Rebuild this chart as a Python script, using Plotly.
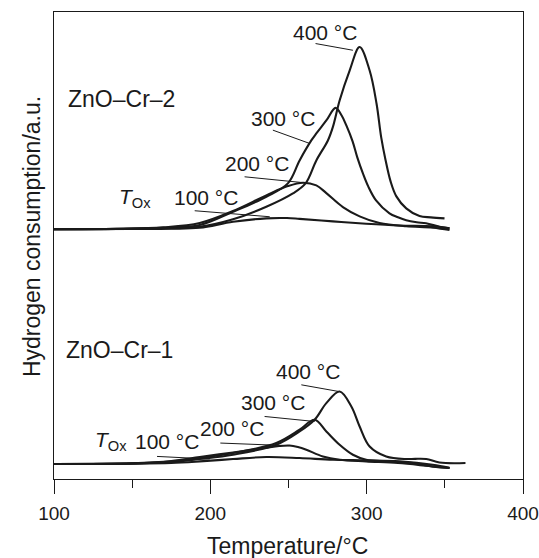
import plotly.graph_objects as go

# ---------------- data ----------------
# ZnO-Cr-2 (upper set): temperature (°C) and signal above its baseline (a.u.)
cr2_400_T = [100, 140, 170, 193, 214.5, 235.8, 252.8, 260.9, 267.8, 275.2, 278.4, 282.7, 289.1, 295.5,
             301.9, 306.3, 309.3, 312, 315.3, 319, 325.3, 333.8, 341, 349.8]
cr2_400_h = [0, 0.3, 1, 2.5, 10, 22.6, 36, 46, 69, 89, 102.6, 129, 159, 182.6,
             159, 126, 92, 70, 48, 33, 21, 13.3, 12, 11]

cr2_300_T = [100, 140, 170, 193.2, 214.5, 235.8, 249.6, 257.1, 264.6, 267.8, 274.2, 280.1, 284, 287, 291,
             294, 297.6, 301, 306, 314.6, 320, 325.3, 332, 338, 346.6, 353]
cr2_300_h = [0, 0.4, 1.5, 4.3, 17.6, 32.6, 46, 69, 89, 96, 109, 121.6, 114, 104, 88,
             72, 56, 43, 29, 16, 12, 9, 7, 6, 2.6, 1]

cr2_200_T = [100, 140, 170, 193.2, 214.5, 235.8, 249.6, 259.2, 267.8, 274.2, 284.8, 295.5, 308.2, 325.3, 342.3, 353]
cr2_200_h = [0, 0.5, 2, 6.3, 18.3, 34, 43.3, 46.7, 44, 36.3, 22.3, 13, 6.3, 3, 1.7, -0.7]

cr2_100_T = [100, 150, 175, 193.2, 214.5, 235.8, 249, 257.1, 278.4, 299.7, 321, 342.3, 353]
cr2_100_h = [0, 0.3, 0.6, 1.5, 7.6, 11, 11.3, 10.5, 8, 5.6, 3.8, 3, 1]

# ZnO-Cr-1 (lower set)
cr1_400_T = [100, 150, 175, 193.2, 214.5, 242.2, 257.1, 266.7, 274.2, 282.7, 290.2, 295.5, 301.9, 312.5,
             325.3, 331, 338.1, 346.6, 363.2]
cr1_400_h = [0, 0.5, 2, 5, 9.3, 19.3, 32.6, 44.3, 61, 72.6, 57.6, 37.6, 17.6, 7.6,
             5, 5.2, 5, 1.5, 1]

cr1_300_T = [100, 150, 175, 193.2, 214.5, 242.2, 257.1, 266.7, 274.2, 282.7, 291.2, 299.7, 312.5, 329.6, 342.3, 353]
cr1_300_h = [0, 0.6, 2.5, 6, 11, 21, 34.3, 44.3, 32.6, 19.3, 9.3, 4.3, 2.6, 1, -2.7, -4]

cr1_200_T = [100, 150, 175, 193.2, 214.5, 234.7, 244, 250.6, 256, 261.4, 272, 282.7, 299.7, 320, 340, 353]
cr1_200_h = [0, 0.8, 3, 7, 11.6, 16, 18, 18.5, 17, 14.3, 7.6, 4.3, 2.6, 1, -2, -4]

cr1_100_T = [100, 150, 175, 193.2, 214.5, 235.8, 257.1, 278.4, 299.7, 321, 342.3, 353]
cr1_100_h = [0, 0.3, 1, 2.6, 5, 7, 6, 4.3, 3.6, 2.6, -0.7, -3.7]

x_ticks = [100, 200, 300, 400]
x_minor_ticks = [150, 250, 350]

# vertical offsets of the two stacked sets (a.u.)
offset_cr2 = 250
offset_cr1 = 15

FONT = "Liberation Sans, Arial, Helvetica, sans-serif"
INK = "#1a1a1a"

fig = go.Figure()

series = [
    (cr2_400_T, cr2_400_h, offset_cr2), (cr2_300_T, cr2_300_h, offset_cr2),
    (cr2_200_T, cr2_200_h, offset_cr2), (cr2_100_T, cr2_100_h, offset_cr2),
    (cr1_400_T, cr1_400_h, offset_cr1), (cr1_300_T, cr1_300_h, offset_cr1),
    (cr1_200_T, cr1_200_h, offset_cr1), (cr1_100_T, cr1_100_h, offset_cr1),
]
for T, h, off in series:
    fig.add_trace(go.Scatter(
        x=T, y=[off + v for v in h], mode="lines",
        line=dict(color=INK, width=2.1, shape="spline", smoothing=1.0),
        hoverinfo="skip", showlegend=False))

# ---------------- labels and leader lines ----------------
labels = [
    # text, x, y, xanchor, size
    ("400 °C", 273.4, 447, "center", 21),
    ("300 °C", 246.4, 361, "center", 21),
    ("200 °C", 229.6, 316.3, "center", 21),
    ("100 °C", 197, 282.3, "center", 21),
    ("<i>T</i><sub>Ox</sub>", 151.5, 281, "center", 21),
    ("ZnO–Cr–2", 107.5, 380.3, "left", 23),
    ("400 °C", 262.7, 107.6, "center", 21),
    ("300 °C", 240.4, 76.6, "center", 21),
    ("200 °C", 214.1, 50.3, "center", 21),
    ("100 °C", 172.4, 37.6, "center", 21),
    ("<i>T</i><sub>Ox</sub>", 136.6, 38.5, "center", 21),
    ("ZnO–Cr–1", 106.5, 129.3, "left", 23),
]
for text, x, y, xa, size in labels:
    fig.add_annotation(x=x, y=y, xref="x", yref="y", text=text, showarrow=False,
                       xanchor=xa, yanchor="middle",
                       font=dict(family=FONT, size=size, color=INK))

leaders = [
    (267.3, 436, 291.2, 429.3),
    (240.0, 349.3, 263.5, 336),
    (221.9, 302.6, 260.3, 296.6),
    (190.0, 268.6, 238.0, 262.6),
    (258.2, 94.3, 282.2, 87.6),
    (234.7, 62.6, 266.7, 57.6),
    (206.4, 36.0, 250.7, 33.3),
    (165.9, 22.6, 199.6, 20.0),
]
for x0, y0, x1, y1 in leaders:
    fig.add_shape(type="line", x0=x0, y0=y0, x1=x1, y1=y1, xref="x", yref="y",
                  line=dict(color=INK, width=1))

# axis titles as paper annotations (fixed placement)
fig.add_annotation(x=0.497, y=-0.144, xref="paper", yref="paper", text="Temperature/°C",
                   showarrow=False, xanchor="center", yanchor="middle",
                   font=dict(family=FONT, size=23, color=INK))
fig.add_annotation(x=-0.047, y=0.52, xref="paper", yref="paper", text="Hydrogen consumption/a.u.",
                   showarrow=False, xanchor="center", yanchor="middle", textangle=-90,
                   font=dict(family=FONT, size=23, color=INK))

fig.update_layout(
    width=539, height=558,
    margin=dict(l=54.3, r=15.5, t=11.7, b=78.7, autoexpand=False),
    paper_bgcolor="white", plot_bgcolor="white",
    font=dict(family=FONT, color=INK),
    xaxis=dict(
        range=[100, 400], tickvals=x_ticks, ticktext=[str(v) for v in x_ticks],
        ticks="outside", ticklen=14, tickwidth=1.3, tickcolor=INK,
        showline=True, linecolor=INK, linewidth=1.3, mirror=True,
        showgrid=False, zeroline=False, automargin=False, ticklabelstandoff=3,
        minor=dict(tickvals=x_minor_ticks, ticks="outside", ticklen=8, tickwidth=1.3,
                   tickcolor=INK, showgrid=False),
        tickfont=dict(family=FONT, size=19, color=INK),
    ),
    yaxis=dict(
        range=[0, 467.6], showticklabels=False, ticks="",
        showline=True, linecolor=INK, linewidth=1.3, mirror=True,
        showgrid=False, zeroline=False, automargin=False,
    ),
)

# place the 539x558 figure flush in the 539x558 window (no page margin, no scrollbars)
page_fix = ("document.body.style.margin='0';"
            "document.body.style.overflow='hidden';"
            "document.documentElement.style.overflow='hidden';")
fig.write_html("out.html", post_script=page_fix, config={"displayModeBar": False})
